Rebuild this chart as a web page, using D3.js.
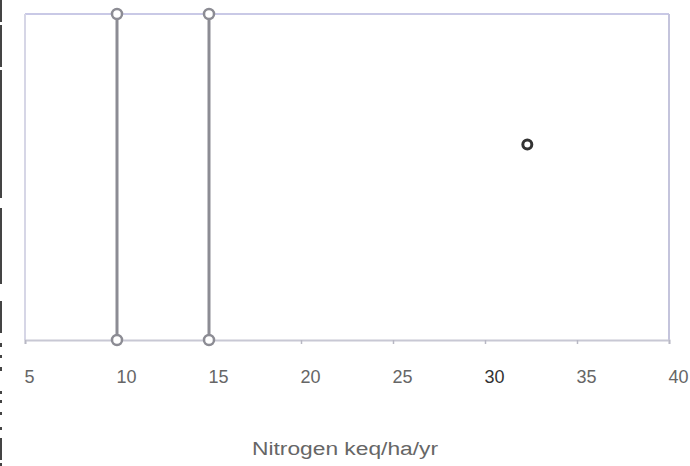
<!DOCTYPE html>
<html>
<head>
<meta charset="utf-8">
<script src="https://cdn.jsdelivr.net/npm/d3@7"></script>
<style>
  body { margin: 0; background: #fff; }
  svg { display: block; }
</style>
</head>
<body>
<div id="chart"></div>
<script>
// x values of the two vertical threshold lines
var thresholds = [10, 15];
// single data point
var points = [{ x: 32.3, y: 0.6 }];
var xTicks = [5, 10, 15, 20, 25, 30, 35, 40];
var xLabel = "Nitrogen keq/ha/yr";

var width = 690, height = 466;
var margin = { left: 25, right: 21, top: 14, bottom: 126 };

var svg = d3.select("#chart").append("svg")
    .attr("width", width).attr("height", height);

var x = d3.scaleLinear().domain([5, 40]).range([margin.left, width - margin.right]);
var y = d3.scaleLinear().domain([0, 1]).range([height - margin.bottom, margin.top]);

// scan edge on the far left
svg.append("line")
    .attr("x1", 1).attr("x2", 1).attr("y1", 0).attr("y2", 466)
    .attr("stroke", "#444").attr("stroke-width", 2)
    .attr("stroke-dasharray", "22,3,42,3,128,10,76,17,32,10,4,8,3,9,4,20,3,6,3,9,3,12,3,8");

// frame
svg.append("line")
    .attr("x1", x(5)).attr("x2", x(40)).attr("y1", y(1)).attr("y2", y(1))
    .attr("stroke", "#c9c9e6").attr("stroke-width", 2);
svg.append("line")
    .attr("x1", x(5)).attr("x2", x(5)).attr("y1", y(1)).attr("y2", y(0))
    .attr("stroke", "#d6d6e6").attr("stroke-width", 2);
svg.append("line")
    .attr("x1", x(40)).attr("x2", x(40)).attr("y1", y(1)).attr("y2", y(0))
    .attr("stroke", "#c4c4dc").attr("stroke-width", 2);

// bottom axis
var axis = svg.append("g")
    .attr("transform", "translate(0," + y(0) + ")")
    .call(d3.axisBottom(x).tickValues(xTicks).tickSize(4).tickPadding(26));
axis.select(".domain").attr("stroke", "#c8c8d4").attr("stroke-width", 2);
axis.selectAll(".tick line").attr("stroke", "#b8b8c4").attr("stroke-width", 1.5);
axis.selectAll(".tick text")
    .attr("font-family", "Liberation Sans, Arial, sans-serif")
    .attr("font-size", 18)
    .attr("text-anchor", "start")
    .attr("dx", -1)
    .attr("fill", function(d) { return d == 30 ? "#333" : "#666"; });

// threshold lines
svg.selectAll(".thr").data(thresholds).enter().append("line")
    .attr("class", "thr")
    .attr("x1", function(d) { return x(d); })
    .attr("x2", function(d) { return x(d); })
    .attr("y1", y(1)).attr("y2", y(0))
    .attr("stroke", "#8c8c94").attr("stroke-width", 3);

var ends = [];
thresholds.forEach(function(t) { ends.push({ x: t, y: 1 }); ends.push({ x: t, y: 0 }); });
svg.selectAll(".end").data(ends).enter().append("circle")
    .attr("class", "end")
    .attr("cx", function(d) { return x(d.x); })
    .attr("cy", function(d) { return y(d.y); })
    .attr("r", 5)
    .attr("fill", "#fff")
    .attr("stroke", "#8c8c94").attr("stroke-width", 2.5);

// data point
svg.selectAll(".pt").data(points).enter().append("circle")
    .attr("class", "pt")
    .attr("cx", function(d) { return x(d.x); })
    .attr("cy", function(d) { return y(d.y); })
    .attr("r", 4.5)
    .attr("fill", "#fff")
    .attr("stroke", "#333").attr("stroke-width", 3);

// axis title (scanned text is wider than normal, so stretch it)
svg.append("text")
    .attr("x", 252).attr("y", 455)
    .attr("textLength", 186)
    .attr("lengthAdjust", "spacingAndGlyphs")
    .attr("font-family", "Liberation Sans, Arial, sans-serif")
    .attr("font-size", 18)
    .attr("fill", "#666")
    .text(xLabel);
</script>
</body>
</html>
